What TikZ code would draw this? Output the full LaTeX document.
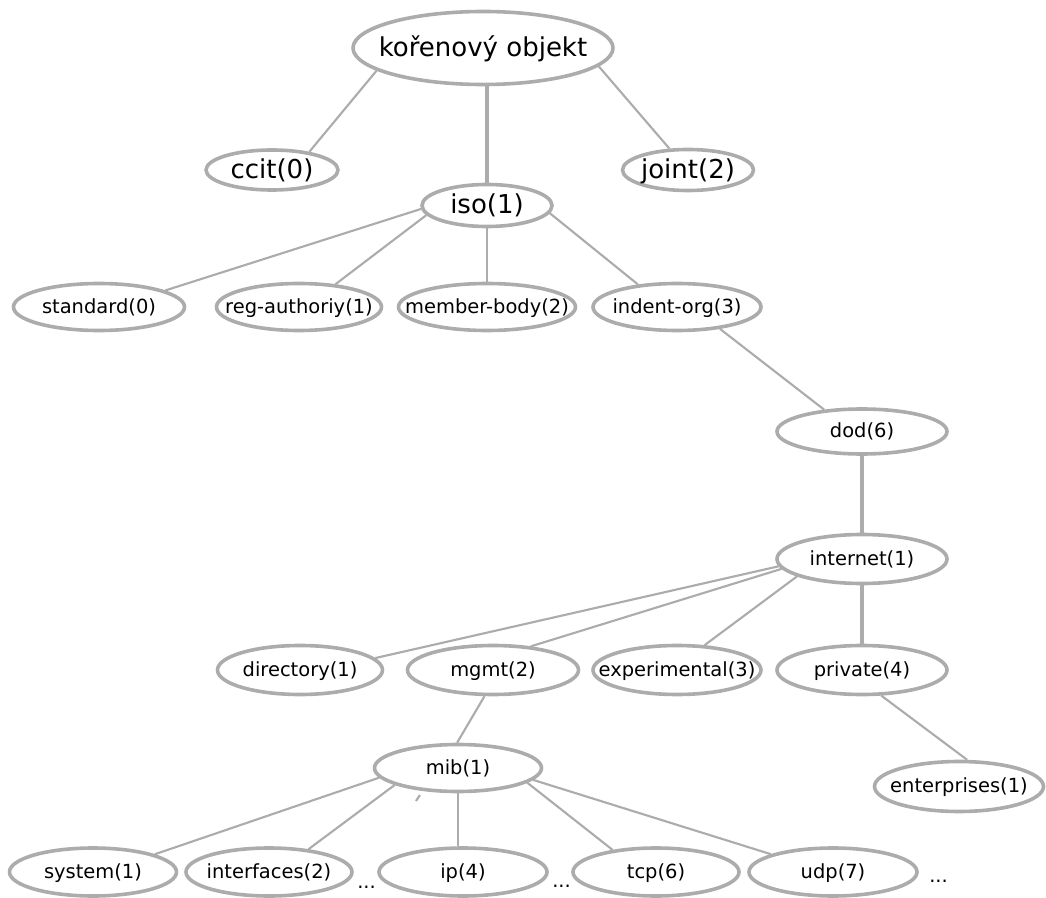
\documentclass[tikz,border=0pt]{standalone}
\usepackage{fontspec}
\setmainfont{DejaVu Sans}
\usetikzlibrary{shapes.geometric}
\definecolor{edge}{RGB}{172,172,172}
\begin{document}
\begin{tikzpicture}[x=0.75pt,y=-0.75pt,
  oid/.style 2 args={ellipse, draw=edge, line width=2.7pt,
    minimum width=#1*0.75pt, minimum height=#2*0.75pt, inner sep=0pt},
  big/.style={font=\fontsize{19.5}{23}\selectfont, inner sep=0pt,
    text height=14.8pt, text depth=2.6pt},
  small/.style={font=\fontsize{14.6}{17}\selectfont, inner sep=0pt,
    text height=11pt, text depth=1.9pt},
  dots/.style={font=\fontsize{14.6}{17}\selectfont, inner sep=0pt, anchor=base west},
  link/.style={draw=edge, line width=1.6pt},
  trunk/.style={draw=edge, line width=2.4pt}]
\useasboundingbox (0,0) rectangle (1046,898);

% --- object identifier tree: ellipses ---
\node[oid={260}{73}] (root) at (483,48) {};
\node[oid={132}{40}] (ccit) at (272,170) {};
\node[oid={131}{41}] (joint) at (688,170) {};
\node[oid={130}{42}] (iso) at (487,205.5) {};

\node[oid={171}{47}] (standard) at (99,307) {};
\node[oid={165}{47}] (reg) at (299,307) {};
\node[oid={177}{47}] (member) at (487,307) {};
\node[oid={168}{47}] (indent) at (677,307) {};

\node[oid={170}{45}] (dod) at (862,431.5) {};
\node[oid={170}{49}] (internet) at (862,559) {};

\node[oid={165}{49}] (directory) at (300,670) {};
\node[oid={171}{49}] (mgmt) at (493,670) {};
\node[oid={168}{49}] (exper) at (677,670) {};
\node[oid={170}{49}] (private) at (862,670) {};
\node[oid={169}{50}] (enterprises) at (959,786.5) {};

\node[oid={167}{47}] (mib) at (458,768) {};
\node[oid={167}{48}] (system) at (93,872) {};
\node[oid={166}{48}] (interfaces) at (269,872) {};
\node[oid={168}{48}] (ip) at (463,872) {};
\node[oid={166}{48}] (tcp) at (656,872) {};
\node[oid={168}{48}] (udp) at (833,872) {};

% --- labels ---
\node[big] (rootT) at (root) {kořenový objekt};
\node[big] (ccitT) at (ccit) {ccit(0)};
\node[big] (jointT) at (joint) {joint(2)};
\node[big] (isoT) at (iso) {iso(1)};
\node[small] (standardT) at (standard) {standard(0)};
\node[small] (regT) at (reg) {reg-authoriy(1)};
\node[small] (memberT) at (member) {member-body(2)};
\node[small] (indentT) at (indent) {indent-org(3)};
\node[small] (dodT) at (dod) {dod(6)};
\node[small] (internetT) at (internet) {internet(1)};
\node[small] (directoryT) at (directory) {directory(1)};
\node[small] (mgmtT) at (mgmt) {mgmt(2)};
\node[small] (experT) at (exper) {experimental(3)};
\node[small] (privateT) at (private) {private(4)};
\node[small] (enterprisesT) at (enterprises) {enterprises(1)};
\node[small] (mibT) at (mib) {mib(1)};
\node[small] (systemT) at (system) {system(1)};
\node[small] (interfacesT) at (interfaces) {interfaces(2)};
\node[small] (ipT) at (ip) {ip(4)};
\node[small] (tcpT) at (tcp) {tcp(6)};
\node[small] (udpT) at (udp) {udp(7)};

\node[dots] (dotsA) at (357,888) {...};
\node[dots] (dotsB) at (552,887) {...};
\node[dots] (dotsC) at (929,882) {...};

% --- connectors ---
\draw[link] (root.192) -- (ccit.26);
\draw[link] (root.351) -- (joint.131);
\draw[line width=2.8pt, draw=edge] (iso.north) -- (iso.north |- root.south);

\draw[link] (iso.183) -- (standard.14);
\draw[link] (iso.189) -- (reg.32);
\draw[link] (iso.south) -- (iso.south |- member.north);
\draw[link] (iso.353) -- (indent.150);

\draw[link] (indent.333) -- (dod.150);
\draw[trunk] (internet.north) -- (internet.north |- dod.south);

\draw[link] (internet.185) -- (directory.9);
\draw[link] (internet.187) -- (mgmt.32);
\draw[link] (internet.195) -- (exper.42);
\draw[trunk] (internet.south) -- (internet.south |- private.north);
\draw[link] (private.307) -- (enterprises.73);

\draw[link] (mgmt.252) -- (mib.92);
\draw[link] (mib.187) -- (system.16);
\draw[link] (mib.195) -- (interfaces.30);
\draw[link] (mib.south) -- (mib.south |- ip.north);
\draw[link] (mib.348) -- (tcp.153);
\draw[link] (mib.351) -- (udp.164);

% short stray stroke below mib(1)
\coordinate (tickA) at (416,801);
\coordinate (tickB) at (420,795);
\draw[link] (tickA) -- (tickB);
\end{tikzpicture}
\end{document}
